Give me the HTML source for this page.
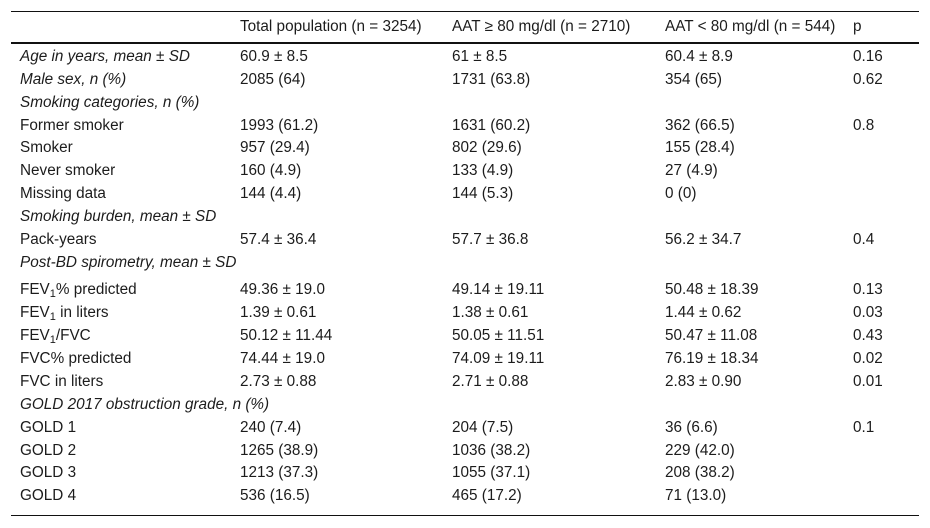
<!DOCTYPE html>
<html><head><meta charset="utf-8"><style>
body{margin:0;width:930px;height:528px;background:#fff;font-family:"Liberation Sans",Arial,sans-serif;font-size:15.3px;color:#1c1c1c;position:relative;overflow:hidden}
.l{position:absolute;left:11px;width:908px;background:#111}
.r{position:absolute;left:0;width:930px;height:20px;line-height:20px}
.r span{position:absolute;white-space:nowrap}
.c0{left:20px}.c1{left:240px}.c2{left:452px}.c3{left:665px}.c4{left:853px}
i{font-style:italic}
sub{font-size:11px;vertical-align:-3px;line-height:0}
</style></head><body>
<div class="l" style="top:11px;height:1px"></div>
<div class="l" style="top:42px;height:2px"></div>
<div class="l" style="top:515px;height:1px"></div>
<div class="r" style="top:17px"><span class="c1">Total population (n = 3254)</span><span class="c2">AAT ≥ 80 mg/dl (n = 2710)</span><span class="c3">AAT &lt; 80 mg/dl (n = 544)</span><span class="c4">p</span></div>
<div class="r" style="top:47px"><span class="c0"><i>Age in years, mean ± SD</i></span><span class="c1">60.9 ± 8.5</span><span class="c2">61 ± 8.5</span><span class="c3">60.4 ± 8.9</span><span class="c4">0.16</span></div>
<div class="r" style="top:70px"><span class="c0"><i>Male sex, n (%)</i></span><span class="c1">2085 (64)</span><span class="c2">1731 (63.8)</span><span class="c3">354 (65)</span><span class="c4">0.62</span></div>
<div class="r" style="top:93px"><span class="c0"><i>Smoking categories, n (%)</i></span></div>
<div class="r" style="top:116px"><span class="c0">Former smoker</span><span class="c1">1993 (61.2)</span><span class="c2">1631 (60.2)</span><span class="c3">362 (66.5)</span><span class="c4">0.8</span></div>
<div class="r" style="top:138px"><span class="c0">Smoker</span><span class="c1">957 (29.4)</span><span class="c2">802 (29.6)</span><span class="c3">155 (28.4)</span></div>
<div class="r" style="top:161px"><span class="c0">Never smoker</span><span class="c1">160 (4.9)</span><span class="c2">133 (4.9)</span><span class="c3">27 (4.9)</span></div>
<div class="r" style="top:184px"><span class="c0">Missing data</span><span class="c1">144 (4.4)</span><span class="c2">144 (5.3)</span><span class="c3">0 (0)</span></div>
<div class="r" style="top:207px"><span class="c0"><i>Smoking burden, mean ± SD</i></span></div>
<div class="r" style="top:230px"><span class="c0">Pack-years</span><span class="c1">57.4 ± 36.4</span><span class="c2">57.7 ± 36.8</span><span class="c3">56.2 ± 34.7</span><span class="c4">0.4</span></div>
<div class="r" style="top:253px"><span class="c0"><i>Post-BD spirometry, mean ± SD</i></span></div>
<div class="r" style="top:280px"><span class="c0">FEV<sub>1</sub>% predicted</span><span class="c1">49.36 ± 19.0</span><span class="c2">49.14 ± 19.11</span><span class="c3">50.48 ± 18.39</span><span class="c4">0.13</span></div>
<div class="r" style="top:303px"><span class="c0">FEV<sub>1</sub> in liters</span><span class="c1">1.39 ± 0.61</span><span class="c2">1.38 ± 0.61</span><span class="c3">1.44 ± 0.62</span><span class="c4">0.03</span></div>
<div class="r" style="top:326px"><span class="c0">FEV<sub>1</sub>/FVC</span><span class="c1">50.12 ± 11.44</span><span class="c2">50.05 ± 11.51</span><span class="c3">50.47 ± 11.08</span><span class="c4">0.43</span></div>
<div class="r" style="top:349px"><span class="c0">FVC% predicted</span><span class="c1">74.44 ± 19.0</span><span class="c2">74.09 ± 19.11</span><span class="c3">76.19 ± 18.34</span><span class="c4">0.02</span></div>
<div class="r" style="top:372px"><span class="c0">FVC in liters</span><span class="c1">2.73 ± 0.88</span><span class="c2">2.71 ± 0.88</span><span class="c3">2.83 ± 0.90</span><span class="c4">0.01</span></div>
<div class="r" style="top:395px"><span class="c0"><i>GOLD 2017 obstruction grade, n (%)</i></span></div>
<div class="r" style="top:418px"><span class="c0">GOLD 1</span><span class="c1">240 (7.4)</span><span class="c2">204 (7.5)</span><span class="c3">36 (6.6)</span><span class="c4">0.1</span></div>
<div class="r" style="top:441px"><span class="c0">GOLD 2</span><span class="c1">1265 (38.9)</span><span class="c2">1036 (38.2)</span><span class="c3">229 (42.0)</span></div>
<div class="r" style="top:463px"><span class="c0">GOLD 3</span><span class="c1">1213 (37.3)</span><span class="c2">1055 (37.1)</span><span class="c3">208 (38.2)</span></div>
<div class="r" style="top:486px"><span class="c0">GOLD 4</span><span class="c1">536 (16.5)</span><span class="c2">465 (17.2)</span><span class="c3">71 (13.0)</span></div>
</body></html>
